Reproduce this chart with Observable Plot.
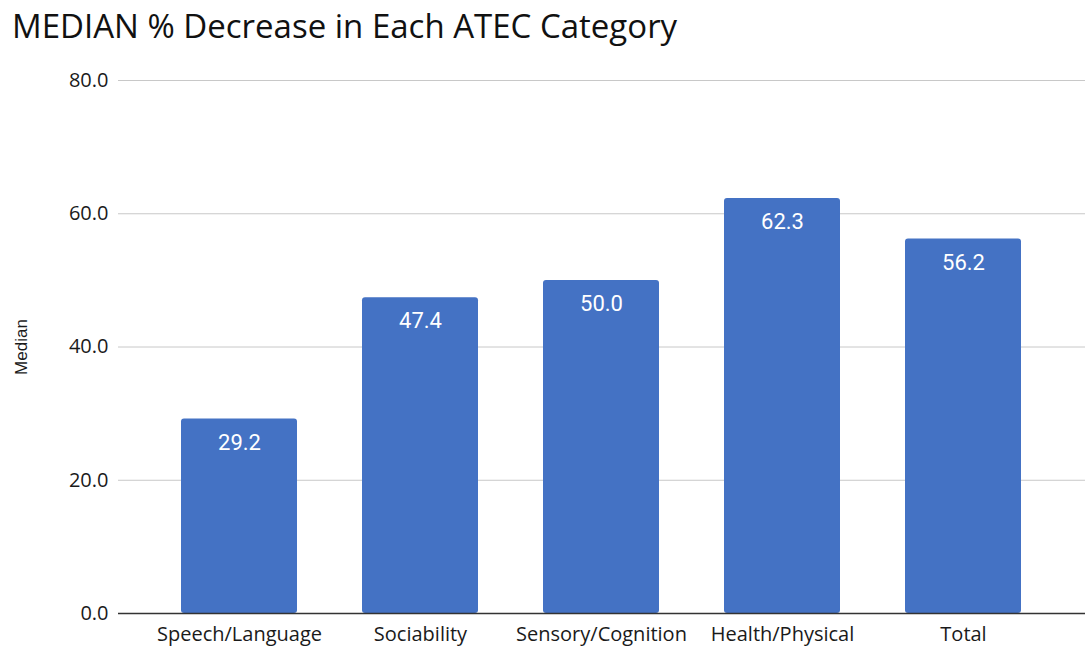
<!DOCTYPE html>
<html>
<head>
<meta charset="utf-8">
<script src="https://cdn.jsdelivr.net/npm/d3@7"></script>
<script src="https://cdn.jsdelivr.net/npm/@observablehq/plot@0.6"></script>
<style>
  html, body { margin: 0; padding: 0; background: #fff; }
  #title { height: 60px; box-sizing: border-box; padding: 9px 0 0 12px; font-family: "Open Sans", sans-serif; font-size: 33px; line-height: 1; color: #111; white-space: nowrap; }
  #chart svg { display: block; }
</style>
</head>
<body>
<div id="title">MEDIAN % Decrease in Each ATEC Category</div>
<div id="chart"></div>
<script>
const categories = ["Speech/Language", "Sociability", "Sensory/Cognition", "Health/Physical", "Total"];
const medians = [29.2, 47.4, 50.0, 62.3, 56.2];
const yTicks = [0, 20, 40, 60, 80];

const data = categories.map((c, i) => ({category: c, value: medians[i]}));

const chart = Plot.plot({
  width: 1086,
  height: 590,
  marginTop: 20,
  marginBottom: 37,
  marginLeft: 118,
  marginRight: 1,
  style: {fontFamily: "Open Sans, sans-serif", fontSize: "20px", color: "#1a1a1a", background: "#fff"},
  x: {domain: categories, paddingInner: 0.358, paddingOuter: 0.35, label: null},
  y: {domain: [0, 80], label: null},
  marks: [
    Plot.gridY(yTicks, {stroke: "#c8c8c8", strokeOpacity: 1, strokeWidth: 1}),
    Plot.axisY({ticks: yTicks, tickFormat: d => d.toFixed(1), tickSize: 0, tickPadding: 10, fontSize: 20,
      label: "Median", labelAnchor: "center", labelArrow: "none", labelOffset: 104}),
    Plot.axisX({tickSize: 0, tickPadding: 13, fontSize: 20}),
    Plot.barY(data, {x: "category", y: "value", fill: "#4472c4", rx: 3}),
    Plot.ruleY([0], {stroke: "#333", strokeWidth: 1.5}),
    Plot.text(data, {x: "category", y: "value", text: d => d.value.toFixed(1), fill: "white",
      lineAnchor: "top", dy: 15, fontSize: 22, fontFamily: "Roboto, sans-serif"})
  ]
});
d3.select(chart).selectAll('[aria-label="y-axis label"]')
  .attr("font-size", 17).attr("font-family", "Liberation Sans, Arial, sans-serif");
document.getElementById("chart").appendChild(chart);
</script>
</body>
</html>
